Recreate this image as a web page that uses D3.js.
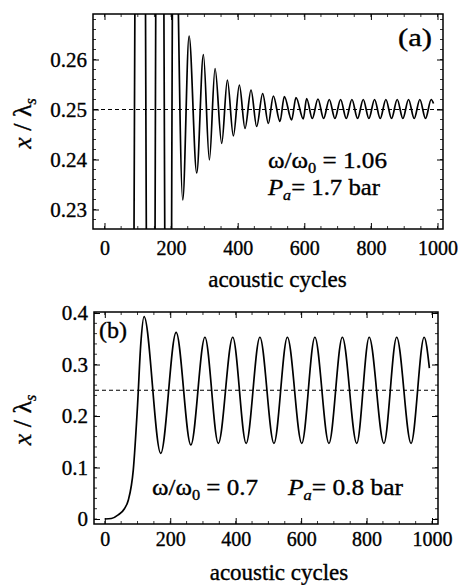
<!DOCTYPE html>
<html><head><meta charset="utf-8">
<script src="https://cdn.jsdelivr.net/npm/d3@7"></script>
<style>
body{margin:0;background:#fff;}
svg{display:block;}
text{font-family:"Liberation Serif","Times New Roman",serif;fill:#000;}
</style></head>
<body>
<svg id="chart" width="459" height="585"></svg>
<script>
// ---------- data ----------
const xTicks = [0, 200, 400, 600, 800, 1000];
const yTicksA = [0.23, 0.24, 0.25, 0.26];
const yTicksB = [0, 0.1, 0.2, 0.3, 0.4];
const refLine = 0.25;

// panel (a): extrema of the oscillation (acoustic cycles, x/λs)
const cyclesA = [0, 70, 108, 140, 165, 193, 208, 235, 254, 277, 297, 315, 332, 352, 369, 387, 405, 422, 440, 457, 475, 492, 507, 527, 540, 562, 575, 597, 607,
  624, 641, 658, 675, 692, 709, 726, 743, 760, 777, 794, 811, 828, 845, 862, 879, 896, 913, 930, 947, 964, 981, 988];
const valuesA = [0.0, 0.01, 0.45, 0.06, 0.42, 0.10, 0.31, 0.2319, 0.2647, 0.2373, 0.2610, 0.2399, 0.2582, 0.2432, 0.2559, 0.2447, 0.2549, 0.2462, 0.2539, 0.2466, 0.2532, 0.2472, 0.2527, 0.2476, 0.2526, 0.2479, 0.2524, 0.2481, 0.2522,
  0.2482, 0.2521, 0.2482, 0.2520, 0.2482, 0.2520, 0.2482, 0.2520, 0.2482, 0.2520, 0.2482, 0.2520, 0.2482, 0.2520, 0.2482, 0.2520, 0.2482, 0.2520, 0.2482, 0.2520, 0.2482, 0.2520, 0.2512];

// panel (b)
const cyclesB = [0, 20, 41, 60, 72, 87, 100, 110, 120, 171, 218, 263, 306, 347, 391, 432, 474, 517, 558, 602, 642, 685, 726, 770, 808, 853, 892, 936, 976, 992];
const valuesB = [0, 0.001, 0.008, 0.02, 0.037, 0.095, 0.22, 0.34, 0.393, 0.1275, 0.3625, 0.1437, 0.353, 0.147, 0.353, 0.147, 0.353, 0.147, 0.353, 0.147, 0.353, 0.147, 0.353, 0.147, 0.353, 0.147, 0.353, 0.147, 0.353, 0.293];

// ---------- drawing ----------
const svg = d3.select("#chart");
const XTICK_FONT = 20, YTICK_FONT = 21, TITLE_FONT = 23, TEXT_STROKE = 0.35;

function drawPanel(o) {
  const x = d3.scaleLinear().domain(o.xDomain).range([o.left, o.right]);
  const y = d3.scaleLinear().domain(o.yDomain).range([o.bottom, o.top]);
  const g = svg.append("g");
  const clipId = "clip" + o.id;
  svg.append("clipPath").attr("id", clipId).append("rect")
    .attr("x", o.left).attr("y", o.top).attr("width", o.right - o.left).attr("height", o.bottom - o.top);

  // minor ticks
  const xMinor = d3.range(o.xMinorStart, o.xDomain[1], o.xMinorStep);
  const yMinor = d3.range(o.yMinorStart, o.yDomain[1], o.yMinorStep);
  const minor = g.append("g").attr("stroke", "#000").attr("stroke-width", 0.8);
  xMinor.forEach(v => {
    const px = x(v);
    if (px <= o.left + 1 || px >= o.right - 1) return;
    minor.append("line").attr("x1", px).attr("x2", px).attr("y1", o.bottom).attr("y2", o.bottom - 3);
    minor.append("line").attr("x1", px).attr("x2", px).attr("y1", o.top).attr("y2", o.top + 3);
  });
  yMinor.forEach(v => {
    const py = y(v);
    if (py <= o.top + 1 || py >= o.bottom - 1) return;
    minor.append("line").attr("y1", py).attr("y2", py).attr("x1", o.left).attr("x2", o.left + 3);
    minor.append("line").attr("y1", py).attr("y2", py).attr("x1", o.right).attr("x2", o.right - 3);
  });

  // axes
  const ax = g.append("g").attr("transform", `translate(0,${o.bottom})`)
    .call(d3.axisBottom(x).tickValues(xTicks).tickSizeInner(-6).tickSizeOuter(0).tickPadding(o.xPad).tickFormat(d3.format("d")));
  const axT = g.append("g").attr("transform", `translate(0,${o.top})`)
    .call(d3.axisTop(x).tickValues(xTicks).tickSizeInner(-6).tickSizeOuter(0).tickFormat(""));
  const ay = g.append("g").attr("transform", `translate(${o.left},0)`)
    .call(d3.axisLeft(y).tickValues(o.yTicks).tickSizeInner(-6).tickSizeOuter(0).tickPadding(6).tickFormat(o.yFormat));
  const ayR = g.append("g").attr("transform", `translate(${o.right},0)`)
    .call(d3.axisRight(y).tickValues(o.yTicks).tickSizeInner(-6).tickSizeOuter(0).tickFormat(""));
  [ax, axT, ay, ayR].forEach(a => {
    a.attr("font-family", null).attr("font-size", null);
    a.select(".domain").remove();
    a.selectAll(".tick line").attr("stroke", "#000").attr("stroke-width", 1);
    a.selectAll("text").attr("fill", "#000").attr("stroke", "#000").attr("stroke-width", TEXT_STROKE);
  });
  ax.selectAll("text").attr("font-size", XTICK_FONT);
  ay.selectAll("text").attr("font-size", YTICK_FONT);

  // reference dashed line
  g.append("line").attr("x1", o.left + 1).attr("x2", o.right - 3)
    .attr("y1", y(refLine)).attr("y2", y(refLine))
    .attr("stroke", "#000").attr("stroke-width", 1.1).attr("stroke-dasharray", "4,3");

  // curve
  const pts = o.cx.map((c, i) => [c, o.cy[i]]);
  g.append("path").attr("clip-path", `url(#${clipId})`)
    .attr("d", d3.line().x(d => x(d[0])).y(d => y(d[1])).curve(d3.curveMonotoneX)(pts))
    .attr("fill", "none").attr("stroke", "#000").attr("stroke-width", 1.7);

  // frame
  g.append("rect").attr("x", o.left).attr("y", o.top)
    .attr("width", o.right - o.left).attr("height", o.bottom - o.top)
    .attr("fill", "none").attr("stroke", "#000").attr("stroke-width", 1.5);

  // x-axis title
  g.append("text").attr("x", o.xTitleX).attr("y", o.xTitleY)
    .attr("text-anchor", "middle").attr("font-size", TITLE_FONT)
    .attr("stroke", "#000").attr("stroke-width", TEXT_STROKE).text("acoustic cycles");

  // y-axis title
  const yt = g.append("text").attr("transform", `translate(${o.yTitleX},${(o.top + o.bottom) / 2 + 2}) rotate(-90)`)
    .attr("text-anchor", "middle").attr("font-size", 26).attr("stroke", "#000").attr("stroke-width", TEXT_STROKE);
  yt.append("tspan").attr("font-style", "italic").text("x");
  yt.append("tspan").text(" / λ");
  yt.append("tspan").attr("font-style", "italic").attr("font-size", 16).attr("dy", 5).text("s");
  return {x, y, g};
}

const A = drawPanel({
  id: "a", left: 93, right: 443, top: 14, bottom: 229,
  xDomain: [-34.5, 1016.5], yDomain: [0.2261, 0.2691],
  xMinorStart: -50, xMinorStep: 50, yMinorStart: 0.226, yMinorStep: 0.002,
  yTicks: yTicksA, yFormat: d3.format(".2f"), xPad: 12,
  cx: cyclesA, cy: valuesA, xTitleX: 277.5, xTitleY: 287, yTitleX: 31
});
const B = drawPanel({
  id: "b", left: 94, right: 438, top: 312, bottom: 524,
  xDomain: [-33, 1018.3], yDomain: [-0.0097, 0.402],
  xMinorStart: -50, xMinorStep: 50, yMinorStart: 0, yMinorStep: 0.02,
  yTicks: yTicksB, yFormat: d => d === 0 ? "0" : d3.format(".1f")(d), xPad: 7.5,
  cx: cyclesB, cy: valuesB, xTitleX: 279, xTitleY: 580, yTitleX: 31
});

// annotations (text fitted to the widths seen in the figure)
function label(g, xp, yp, size, width, parts) {
  const t = g.append("text").attr("x", xp).attr("y", yp).attr("font-size", size)
    .attr("stroke", "#000").attr("stroke-width", TEXT_STROKE)
    .attr("textLength", width).attr("lengthAdjust", "spacingAndGlyphs");
  parts.forEach(p => {
    const s = t.append("tspan").text(p.t);
    if (p.i) s.attr("font-style", "italic");
    if (p.sub) s.attr("font-size", size * 0.65).attr("dy", 5);
    if (p.up) s.attr("dy", -5);
  });
  return t;
}
label(A.g, 398, 46, 25, 34, [{t: "(a)"}]);
label(A.g, 268, 168, 23, 119, [{t: "ω/ω"}, {t: "0", sub: true}, {t: "  = 1.06", up: true}]);
label(A.g, 268, 195, 23, 112, [{t: "P", i: true}, {t: "a", i: true, sub: true}, {t: "= 1.7 bar", up: true}]);
label(B.g, 99, 338, 24, 28, [{t: "(b)"}]);
label(B.g, 152, 495, 23, 106, [{t: "ω/ω"}, {t: "0", sub: true}, {t: "  = 0.7", up: true}]);
label(B.g, 288, 495, 23, 115, [{t: "P", i: true}, {t: "a", i: true, sub: true}, {t: "= 0.8 bar", up: true}]);
</script>
</body></html>
